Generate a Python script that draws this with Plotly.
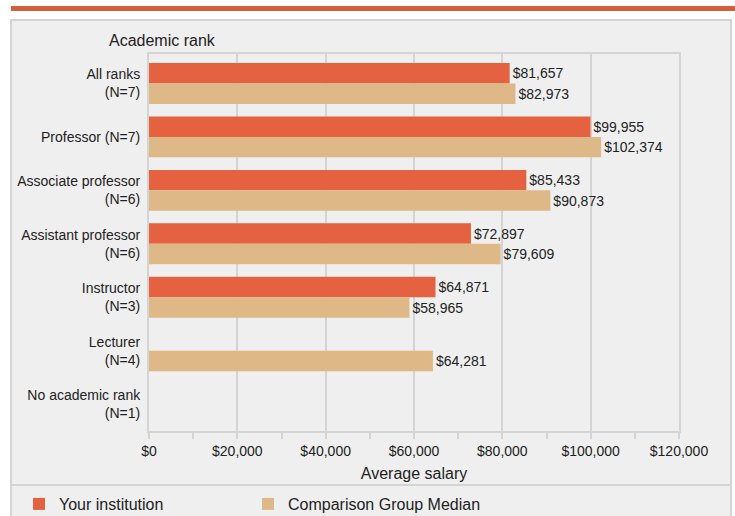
import plotly.graph_objects as go

# ---- data ----
categories = [
    "All ranks<br>(N=7)",
    "Professor (N=7)",
    "Associate professor<br>(N=6)",
    "Assistant professor<br>(N=6)",
    "Instructor<br>(N=3)",
    "Lecturer<br>(N=4)",
    "No academic rank<br>(N=1)",
]
your_institution = [81657, 99955, 85433, 72897, 64871, None, None]
comparison_median = [82973, 102374, 90873, 79609, 58965, 64281, None]
x_tick_values = [0, 20000, 40000, 60000, 80000, 100000, 120000]
x_tick_labels = ["$0", "$20,000", "$40,000", "$60,000", "$80,000", "$100,000", "$120,000"]

# ---- styling ----
W, H = 735, 516
L, R, T, B = 149, 679, 54, 431  # plot area in pixels
FONT = "Liberation Sans, Arial, Helvetica, sans-serif"
ORANGE = "#E4623F"
TAN = "#DEB887"
GRID = "#D4D4D4"
BOX_BG = "#EFEFEF"
TXT = "#222222"


def px(x):
    return (x - L) / (R - L)


def py(y):
    return (B - y) / (B - T)


fig = go.Figure()
fig.add_trace(go.Bar(
    name="Your institution", y=categories, x=your_institution, orientation="h",
    marker=dict(color=ORANGE, line=dict(width=0)),
    texttemplate="$%{x:,}", textposition="outside",
    textfont=dict(size=14, color=TXT, family=FONT), cliponaxis=False,
    hoverinfo="x+name", legend="legend",
))
fig.add_trace(go.Bar(
    name="Comparison Group Median", y=categories, x=comparison_median, orientation="h",
    marker=dict(color=TAN, line=dict(width=0)),
    texttemplate="$%{x:,}", textposition="outside",
    textfont=dict(size=14, color=TXT, family=FONT), cliponaxis=False,
    hoverinfo="x+name", legend="legend2",
))

shapes = [
    # outer gray panel
    dict(type="rect", xref="paper", yref="paper", x0=px(11), x1=px(731), y0=py(520), y1=py(20),
         fillcolor=BOX_BG, line=dict(color=GRID, width=2), layer="below"),
    # orange top rule
    dict(type="rect", xref="paper", yref="paper", x0=px(11), x1=px(735), y0=py(11), y1=py(6),
         fillcolor="#D65F3B", line=dict(width=0), layer="below"),
    # legend separator
    dict(type="line", xref="paper", yref="paper", x0=px(11), x1=px(731), y0=py(485), y1=py(485),
         line=dict(color=GRID, width=2), layer="below"),
]

legend_style = dict(orientation="h", xanchor="left", y=py(504), yanchor="middle",
                    font=dict(size=16, color=TXT, family=FONT),
                    bgcolor="rgba(0,0,0,0)", borderwidth=0)

fig.update_layout(
    width=W, height=H,
    margin=dict(l=L, r=W - R, t=T, b=H - B, pad=0, autoexpand=False),
    paper_bgcolor="white", plot_bgcolor="rgba(0,0,0,0)",
    font=dict(family=FONT, size=14, color=TXT),
    barmode="group", bargap=0.234, bargroupgap=0,
    shapes=shapes,
    annotations=[dict(text="Academic rank", xref="paper", yref="paper", x=px(107), y=py(40),
                      xanchor="left", yanchor="middle", showarrow=False,
                      font=dict(size=16, color=TXT, family=FONT))],
    showlegend=True,
    legend=dict(x=px(19), **legend_style),
    legend2=dict(x=px(248), **legend_style),
)

fig.update_xaxes(
    range=[0, 120000], tickvals=x_tick_values, ticktext=x_tick_labels,
    showgrid=True, gridcolor=GRID, gridwidth=2,
    showline=True, linecolor=GRID, linewidth=2, mirror=True,
    ticks="outside", ticklen=6, tickwidth=2, tickcolor=GRID,
    minor=dict(dtick=10000, ticks="outside", ticklen=6, tickwidth=2, tickcolor=GRID, showgrid=False),
    tickfont=dict(size=14, color=TXT),
    title=dict(text="Average salary", font=dict(size=16, color=TXT), standoff=10),
    zeroline=False, fixedrange=True,
)
fig.update_yaxes(
    range=[6.5, -0.55], showgrid=False,
    showline=True, linecolor=GRID, linewidth=2, mirror=True,
    ticks="", ticklabelstandoff=4,
    tickfont=dict(size=14, color=TXT), zeroline=False, fixedrange=True,
)

fig.write_html("out.html", config={"displayModeBar": False},
               post_script="document.body.style.margin='0px';")
